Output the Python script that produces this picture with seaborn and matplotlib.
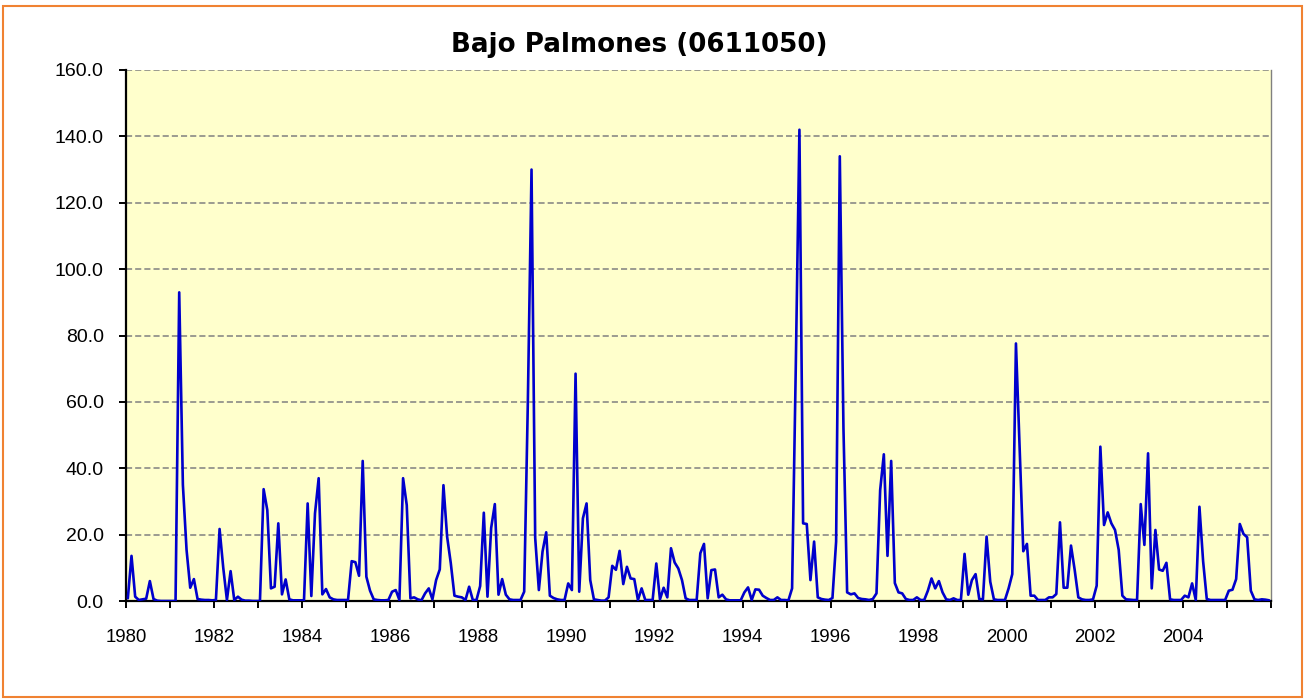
import matplotlib
matplotlib.use("Agg")
import matplotlib.pyplot as plt
import matplotlib.ticker as mticker
from matplotlib.patches import Rectangle
import numpy as np
import pandas as pd
import seaborn as sns

# monthly values (Jan..Dec), one line per year
flow_1980s = [
    0.8, 13.6, 1.3, 0.3, 0.5, 0.7, 6.0, 0.6, 0.1, 0.0, 0.0, 0.0,       # 1980
    0.0, 0.0, 93.0, 35.0, 15.4, 4.0, 6.6, 0.6, 0.4, 0.3, 0.3, 0.2,     # 1981
    0.3, 21.7, 10.0, 0.3, 9.0, 0.3, 1.3, 0.4, 0.1, 0.1, 0.0, 0.0,      # 1982
    0.0, 33.7, 27.4, 3.8, 4.3, 23.4, 2.0, 6.5, 0.5, 0.2, 0.2, 0.2,     # 1983
    0.2, 29.4, 1.5, 26.4, 37.0, 2.0, 3.6, 1.1, 0.5, 0.3, 0.3, 0.3,     # 1984
    0.3, 12.0, 11.7, 7.6, 42.2, 7.3, 3.1, 0.5, 0.3, 0.2, 0.2, 0.3,     # 1985
    2.8, 3.3, 0.3, 37.0, 28.9, 0.8, 1.1, 0.5, 0.2, 2.3, 3.8, 0.5,      # 1986
    6.3, 9.5, 34.9, 19.4, 11.4, 1.6, 1.3, 1.1, 0.3, 4.3, 0.3, 0.3,     # 1987
    4.5, 26.6, 1.3, 22.0, 29.2, 1.9, 6.6, 1.9, 0.5, 0.3, 0.3, 0.3,     # 1988
    2.8, 60.0, 130.0, 19.0, 3.3, 14.9, 20.7, 1.6, 0.9, 0.5, 0.3, 0.3,  # 1989
]
flow_1990s = [
    5.3, 3.3, 68.5, 2.8, 24.9, 29.4, 6.3, 0.5, 0.3, 0.1, 0.1, 1.1,     # 1990
    10.6, 9.4, 15.1, 5.1, 10.3, 6.8, 6.6, 0.3, 3.8, 0.3, 0.3, 0.3,     # 1991
    11.3, 0.5, 4.0, 1.1, 15.9, 11.6, 9.8, 6.3, 0.8, 0.3, 0.3, 0.3,     # 1992
    14.4, 17.2, 0.8, 9.3, 9.5, 1.1, 1.9, 0.5, 0.2, 0.2, 0.2, 0.2,      # 1993
    2.6, 4.1, 0.3, 3.5, 3.4, 1.6, 0.9, 0.3, 0.3, 1.1, 0.3, 0.3,        # 1994
    0.2, 3.8, 70.0, 142.0, 23.4, 23.2, 6.3, 17.9, 1.1, 0.6, 0.4, 0.3,  # 1995
    0.9, 17.9, 134.0, 52.0, 2.6, 2.0, 2.3, 0.9, 0.6, 0.5, 0.3, 0.6,    # 1996
    2.3, 33.4, 44.2, 13.6, 42.2, 5.4, 2.6, 2.3, 0.6, 0.3, 0.3, 1.1,    # 1997
    0.3, 0.3, 3.1, 6.8, 3.8, 6.0, 2.6, 0.5, 0.3, 0.8, 0.3, 0.3,        # 1998
    14.2, 1.9, 6.3, 8.1, 0.6, 0.5, 19.4, 5.8, 0.5, 0.3, 0.3, 0.3,      # 1999
]
flow_2000s = [
    3.8, 8.1, 77.6, 46.0, 15.0, 17.2, 1.6, 1.6, 0.3, 0.3, 0.3, 1.1,    # 2000
    1.1, 2.1, 23.7, 4.0, 4.0, 16.7, 9.4, 1.1, 0.5, 0.3, 0.3, 0.5,      # 2001
    4.6, 46.5, 22.9, 26.7, 23.4, 21.4, 15.4, 1.6, 0.5, 0.4, 0.3, 0.3,  # 2002
    29.2, 16.9, 44.5, 3.8, 21.4, 9.5, 9.1, 11.5, 0.5, 0.3, 0.3, 0.3,   # 2003
    1.6, 1.1, 5.3, 0.3, 28.4, 12.0, 0.6, 0.3, 0.3, 0.3, 0.3, 0.3,      # 2004
    3.1, 3.4, 6.6, 23.2, 20.2, 19.2, 3.1, 0.5, 0.3, 0.5, 0.4, 0.2,     # 2005
]
start_year = 1980
end_year = 2006
y_ticks = [0, 20, 40, 60, 80, 100, 120, 140, 160]
title = "Bajo Palmones (0611050)"

values = flow_1980s + flow_1990s + flow_2000s
months = np.arange(len(values))
df = pd.DataFrame({"fecha": start_year + (months + 0.5) / 12, "caudal": values})

sns.set_style("white")
plt.rcParams["font.family"] = ["Liberation Sans", "DejaVu Sans"]
plt.rcParams["text.color"] = "black"
plt.rcParams["xtick.color"] = "black"
plt.rcParams["ytick.color"] = "black"

W, H = 1305, 700
fig = plt.figure(figsize=(W / 100, H / 100), dpi=100)
ax = fig.add_axes([126 / W, 1 - 601 / H, (1271 - 126) / W, (601 - 70) / H])
ax.set_facecolor("#FFFFCC")

sns.lineplot(data=df, x="fecha", y="caudal", ax=ax, color="#0000CC",
             linewidth=1.9, zorder=3)

ax.set_xlim(start_year, end_year)
ax.set_ylim(y_ticks[0], y_ticks[-1])
ax.set_yticks(y_ticks)
ax.yaxis.set_major_formatter(mticker.FormatStrFormatter("%.1f"))
ax.xaxis.set_major_locator(mticker.MultipleLocator(1))
ax.xaxis.set_major_formatter(mticker.FuncFormatter(
    lambda v, p: f"{int(round(v))}" if int(round(v)) % 2 == 0 and v < end_year else ""))
ax.set_xlabel("")
ax.set_ylabel("")

ax.grid(axis="y", color="#808080", linestyle=(0, (4, 2)), linewidth=1.1, zorder=1)
ax.grid(axis="x", visible=False)

for side in ["left", "bottom"]:
    ax.spines[side].set_color("black")
    ax.spines[side].set_linewidth(1.6)
ax.spines["right"].set_color("#808080")
ax.spines["right"].set_linewidth(1.0)
ax.spines["top"].set_visible(False)

ax.tick_params(axis="both", direction="out", length=5, width=1.4, color="black",
               labelcolor="black", left=True, bottom=True)
ax.tick_params(axis="y", labelsize=14, pad=11)
ax.tick_params(axis="x", labelsize=13.4, pad=15)

fig.text(0.49, 1 - 45 / H, title, ha="center", va="center", fontsize=18.8,
         fontweight="bold", family="DejaVu Sans", color="black")

fig.patches.append(Rectangle((3.5 / W, 3 / H), 1 - 7 / W, 1 - 9 / H,
                             transform=fig.transFigure, fill=False,
                             edgecolor="#F08232", linewidth=1.5))

fig.savefig("out.png", dpi=100)
